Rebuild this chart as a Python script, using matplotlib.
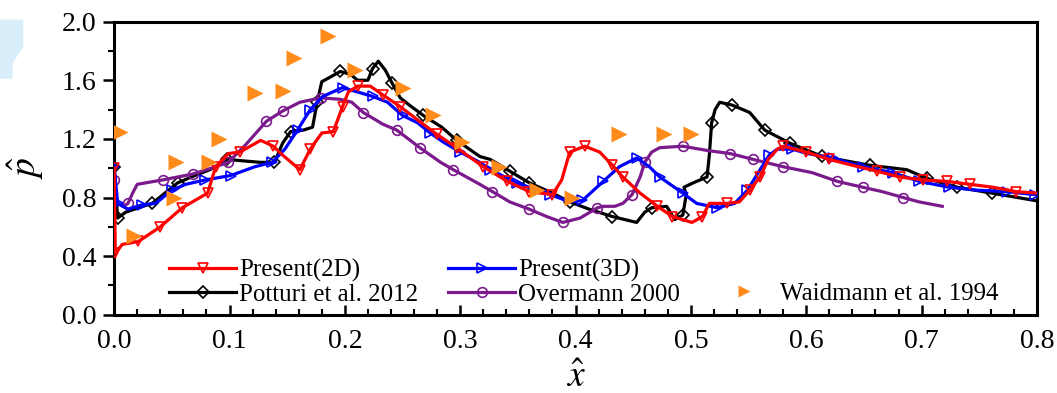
import numpy as np
import matplotlib
matplotlib.use('Agg')
import matplotlib.pyplot as plt
from matplotlib.ticker import MultipleLocator
from matplotlib.lines import Line2D
from matplotlib.patches import Polygon

plt.rcParams['font.family'] = ['Liberation Serif', 'DejaVu Serif']
plt.rcParams['mathtext.fontset'] = 'stix'

# Present(2D)
x_2d = [0.0, 0.001, 0.007, 0.021, 0.040, 0.059, 0.081, 0.088, 0.099, 0.109, 0.127, 0.138,
        0.146, 0.161, 0.170, 0.180, 0.190, 0.198, 0.203, 0.211, 0.222, 0.233, 0.248, 0.263,
        0.280, 0.297, 0.320, 0.341, 0.360, 0.380, 0.388, 0.395, 0.408, 0.421, 0.432, 0.441,
        0.456, 0.471, 0.484, 0.501, 0.510, 0.516, 0.531, 0.542, 0.551, 0.560, 0.567, 0.575,
        0.580, 0.600, 0.620, 0.640, 0.661, 0.681, 0.701, 0.722, 0.742, 0.762, 0.782, 0.800]
y_2d = [1.00, 0.42, 0.48, 0.50, 0.60, 0.73, 0.83, 1.01, 1.10, 1.11, 1.19, 1.15,
        1.09, 0.99, 1.13, 1.24, 1.25, 1.42, 1.52, 1.56, 1.56, 1.50, 1.42, 1.33,
        1.23, 1.14, 1.01, 0.91, 0.84, 0.82, 0.92, 1.11, 1.15, 1.11, 1.02, 0.94,
        0.83, 0.74, 0.67, 0.63, 0.67, 0.76, 0.76, 0.77, 0.85, 0.94, 1.06, 1.13,
        1.15, 1.11, 1.06, 1.02, 0.98, 0.94, 0.92, 0.91, 0.89, 0.87, 0.84, 0.83]

# Present(3D)
x_3d = [0.0, 0.003, 0.012, 0.024, 0.036, 0.050, 0.062, 0.079, 0.101, 0.122, 0.137, 0.148,
        0.159, 0.170, 0.181, 0.198, 0.211, 0.224, 0.237, 0.250, 0.263, 0.274, 0.285, 0.300,
        0.317, 0.326, 0.349, 0.378, 0.395, 0.406, 0.424, 0.438, 0.453, 0.464, 0.473, 0.493,
        0.505, 0.523, 0.538, 0.549, 0.560, 0.568, 0.575, 0.588, 0.601, 0.623, 0.649, 0.675,
        0.698, 0.724, 0.748, 0.774, 0.798]
y_3d = [1.01, 0.76, 0.72, 0.75, 0.76, 0.85, 0.89, 0.92, 0.95, 1.01, 1.04, 1.13,
        1.26, 1.40, 1.49, 1.55, 1.52, 1.49, 1.45, 1.36, 1.31, 1.24, 1.18, 1.11,
        1.04, 0.99, 0.90, 0.82, 0.77, 0.78, 0.91, 1.01, 1.07, 1.01, 0.94, 0.83,
        0.76, 0.73, 0.76, 0.85, 0.99, 1.09, 1.13, 1.13, 1.10, 1.07, 1.01, 0.97,
        0.91, 0.87, 0.85, 0.84, 0.82]

# Potturi et al. 2012
x_pot = [0.0, 0.003, 0.010, 0.021, 0.033, 0.044, 0.055, 0.070, 0.083, 0.098, 0.112, 0.127,
         0.139, 0.146, 0.153, 0.164, 0.172, 0.176, 0.180, 0.187, 0.196, 0.205, 0.211, 0.220,
         0.224, 0.229, 0.235, 0.241, 0.248, 0.256, 0.268, 0.284, 0.297, 0.317, 0.326, 0.343,
         0.360, 0.380, 0.395, 0.412, 0.432, 0.453, 0.460, 0.466, 0.479, 0.486, 0.493, 0.496,
         0.494, 0.502, 0.514, 0.516, 0.518, 0.521, 0.525, 0.536, 0.551, 0.564, 0.586, 0.614,
         0.655, 0.687, 0.705, 0.731, 0.761, 0.798]
y_pot = [1.01, 0.66, 0.70, 0.73, 0.76, 0.83, 0.90, 0.95, 0.99, 1.06, 1.05, 1.04,
         1.04, 1.17, 1.25, 1.26, 1.28, 1.45, 1.59, 1.62, 1.66, 1.64, 1.60, 1.60,
         1.68, 1.73, 1.67, 1.58, 1.48, 1.43, 1.36, 1.28, 1.19, 1.08, 1.06, 0.98,
         0.90, 0.83, 0.77, 0.72, 0.67, 0.63, 0.70, 0.73, 0.74, 0.65, 0.68, 0.82,
         0.87, 0.90, 0.94, 1.09, 1.31, 1.40, 1.45, 1.43, 1.38, 1.26, 1.17, 1.08,
         1.02, 0.99, 0.93, 0.87, 0.83, 0.78]

# Overmann 2000
x_ove = [0.0, 0.002, 0.003, 0.008, 0.012, 0.016, 0.020, 0.042, 0.068, 0.088, 0.099, 0.114,
         0.132, 0.146, 0.161, 0.179, 0.196, 0.206, 0.216, 0.233, 0.245, 0.265, 0.283, 0.294,
         0.317, 0.328, 0.343, 0.360, 0.375, 0.389, 0.404, 0.419, 0.424, 0.434, 0.441, 0.449,
         0.456, 0.460, 0.466, 0.473, 0.493, 0.515, 0.534, 0.554, 0.580, 0.605, 0.627, 0.649,
         0.666, 0.684, 0.698, 0.718]
y_ove = [0.92, 0.80, 0.76, 0.74, 0.76, 0.83, 0.89, 0.92, 0.96, 1.01, 1.04, 1.16,
         1.32, 1.39, 1.45, 1.48, 1.47, 1.45, 1.38, 1.30, 1.26, 1.14, 1.04, 0.99,
         0.89, 0.84, 0.77, 0.72, 0.67, 0.63, 0.66, 0.73, 0.74, 0.74, 0.76, 0.82,
         0.94, 1.04, 1.11, 1.14, 1.15, 1.12, 1.10, 1.06, 1.01, 0.97, 0.91, 0.87,
         0.84, 0.80, 0.77, 0.74]

# Waidmann et al. 1994
x_wai = [0.005, 0.017, 0.052, 0.054, 0.082, 0.091, 0.122, 0.146, 0.156, 0.185,
         0.209, 0.250, 0.276, 0.302, 0.334, 0.367, 0.397, 0.438, 0.477, 0.500]
y_wai = [1.25, 0.54, 0.80, 1.04, 1.04, 1.20, 1.51, 1.53, 1.75, 1.90,
         1.67, 1.55, 1.36, 1.18, 1.01, 0.85, 0.80, 1.23, 1.23, 1.23]

fig = plt.figure(figsize=(10.57, 3.93), dpi=100)
ax = fig.add_axes([0.108, 0.199, 0.873, 0.746])

# pale blue mark at the top-left corner of the source image
fig.patches.append(Polygon([[0, 0.95], [0.022, 0.95], [0.022, 0.88], [0.012, 0.84],
                            [0.012, 0.80], [0, 0.80]], closed=True,
                           transform=fig.transFigure, facecolor='#d8effb',
                           edgecolor='none', zorder=0))

lw = 2.3
ms = 7
orange = '#ff8c1a'
ax.plot(x_pot, y_pot, color='black', lw=lw, marker='D', ms=6, mfc='none', mew=1.2,
        markevery=0.045, label='Potturi et al. 2012', zorder=3)
ax.plot(x_ove, y_ove, color='#7b1a8c', lw=lw, marker='o', ms=ms, mfc='none', mew=1.2,
        markevery=0.04, label='Overmann 2000', zorder=3)
ax.plot(x_3d, y_3d, color='#0000ff', lw=lw, marker='>', ms=ms, mfc='none', mew=1.2,
        markevery=0.035, label='Present(3D)', zorder=4)
ax.plot(x_2d, y_2d, color='#ff0000', lw=lw, marker='v', ms=ms, mfc='none', mew=1.2,
        markevery=0.03, label='Present(2D)', zorder=5)
ax.plot(x_wai, y_wai, linestyle='none', marker='>', ms=11, color=orange,
        mec='none', label='Waidmann et al. 1994', zorder=6)

ax.set_xlim(0, 0.8)
ax.set_ylim(0, 2.0)
ax.xaxis.set_major_locator(MultipleLocator(0.1))
ax.xaxis.set_minor_locator(MultipleLocator(0.02))
ax.yaxis.set_major_locator(MultipleLocator(0.4))
ax.yaxis.set_minor_locator(MultipleLocator(0.2))
ax.tick_params(axis='x', which='major', direction='in', length=7, width=1.8,
               labelsize=20, pad=10)
ax.tick_params(axis='x', which='minor', direction='in', length=4, width=1.5)
ax.tick_params(axis='y', which='major', direction='out', length=8, width=1.8,
               labelsize=20, pad=5)
ax.tick_params(axis='y', which='minor', direction='out', length=4, width=1.5)
ax.tick_params(top=False, right=False, which='both')
for s in ax.spines.values():
    s.set_linewidth(2.2)

ax.set_xlabel(r'$\hat{x}$', fontsize=27, labelpad=5)
ax.set_ylabel(r'$\hat{p}$', fontsize=27, labelpad=11)

h = {l.get_label(): l for l in ax.get_lines()}
blank = Line2D([], [], linestyle='none')
wai_handle = Line2D([], [], linestyle='none', marker='>', ms=8, color=orange, mec='none')
handles = [h['Present(2D)'], h['Potturi et al. 2012'], h['Present(3D)'],
           h['Overmann 2000'], blank, wai_handle]
labels = ['Present(2D)', 'Potturi et al. 2012', 'Present(3D)', 'Overmann 2000', '',
          'Waidmann et al. 1994']
ax.legend(handles, labels, ncol=3, loc='lower left', bbox_to_anchor=(0.043, -0.02),
          frameon=False, fontsize=18, handlelength=2.7, handletextpad=0.1,
          columnspacing=1.2, labelspacing=0.05, borderaxespad=0.2)

fig.savefig('out.png', dpi=100)
